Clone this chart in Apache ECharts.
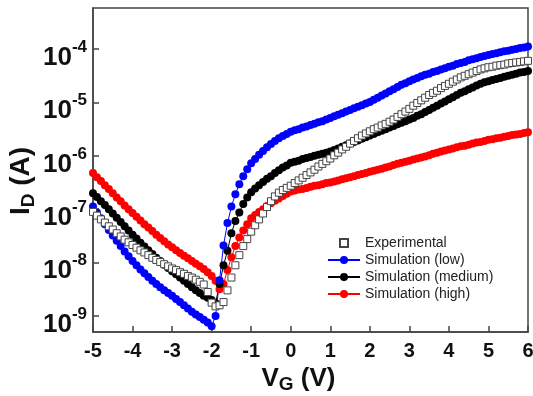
<!DOCTYPE html>
<html>
<head>
<meta charset="utf-8">
<script src="https://cdn.jsdelivr.net/npm/echarts@6/dist/echarts.min.js"></script>
<style>
  html, body { margin: 0; padding: 0; background: #fff; }
  #chart { width: 533px; height: 396px; }
</style>
</head>
<body>
<div id="chart"></div>
<script>
// gate voltage sweep (V)
const vg = [
  -5.0, -4.9, -4.8, -4.7, -4.6, -4.5, -4.4, -4.3, -4.2, -4.1,
  -4.0, -3.9, -3.8, -3.7, -3.6, -3.5, -3.4, -3.3, -3.2, -3.1,
  -3.0, -2.9, -2.8, -2.7, -2.6, -2.5, -2.4, -2.3, -2.2, -2.1,
  -2.0, -1.9, -1.8, -1.7, -1.6, -1.5, -1.4, -1.3, -1.2, -1.1,
  -1.0, -0.9, -0.8, -0.7, -0.6, -0.5, -0.4, -0.3, -0.2, -0.1,
  0.0, 0.1, 0.2, 0.3, 0.4, 0.5, 0.6, 0.7, 0.8, 0.9,
  1.0, 1.1, 1.2, 1.3, 1.4, 1.5, 1.6, 1.7, 1.8, 1.9,
  2.0, 2.1, 2.2, 2.3, 2.4, 2.5, 2.6, 2.7, 2.8, 2.9,
  3.0, 3.1, 3.2, 3.3, 3.4, 3.5, 3.6, 3.7, 3.8, 3.9,
  4.0, 4.1, 4.2, 4.3, 4.4, 4.5, 4.6, 4.7, 4.8, 4.9,
  5.0, 5.1, 5.2, 5.3, 5.4, 5.5, 5.6, 5.7, 5.8, 5.9,
  6.0
];

// log10 of I_D (A)
const logExp = [
  -7.05, -7.12, -7.19, -7.25, -7.32, -7.38, -7.45, -7.51, -7.57, -7.62,
  -7.67, -7.72, -7.77, -7.81, -7.86, -7.91, -7.95, -7.99, -8.03, -8.07,
  -8.11, -8.14, -8.18, -8.21, -8.25, -8.28, -8.32, -8.36, -8.41, -8.55,
  -8.75, -8.82, -8.80, -8.74, -8.52, -8.28, -8.05, -7.86, -7.69, -7.56,
  -7.42, -7.30, -7.19, -7.08, -6.96, -6.85, -6.76, -6.69, -6.64, -6.60,
  -6.56, -6.51, -6.46, -6.41, -6.36, -6.31, -6.26, -6.20, -6.15, -6.10,
  -6.05, -5.99, -5.94, -5.88, -5.83, -5.77, -5.72, -5.67, -5.62, -5.58,
  -5.54, -5.50, -5.47, -5.43, -5.40, -5.36, -5.32, -5.27, -5.22, -5.17,
  -5.12, -5.06, -5.01, -4.96, -4.91, -4.86, -4.82, -4.78, -4.73, -4.69,
  -4.65, -4.61, -4.57, -4.53, -4.50, -4.47, -4.44, -4.41, -4.38, -4.36,
  -4.34, -4.33, -4.31, -4.30, -4.29, -4.27, -4.26, -4.25, -4.24, -4.23,
  -4.22
];

const logLow = [
  -6.95, -7.06, -7.17, -7.28, -7.39, -7.49, -7.59, -7.69, -7.79, -7.88,
  -7.97, -8.05, -8.13, -8.20, -8.27, -8.34, -8.40, -8.46, -8.52, -8.57,
  -8.62, -8.68, -8.74, -8.80, -8.86, -8.92, -8.97, -9.02, -9.07, -9.12,
  -9.19, -9.00, -8.33, -7.68, -7.26, -6.95, -6.72, -6.53, -6.38, -6.25,
  -6.14, -6.06, -5.98, -5.91, -5.84, -5.78, -5.72, -5.67, -5.63, -5.59,
  -5.55, -5.52, -5.50, -5.47, -5.45, -5.42, -5.40, -5.37, -5.35, -5.32,
  -5.29, -5.26, -5.23, -5.20, -5.17, -5.14, -5.11, -5.08, -5.05, -5.02,
  -4.99, -4.95, -4.91, -4.87, -4.83, -4.79, -4.75, -4.71, -4.67, -4.64,
  -4.60, -4.57, -4.54, -4.51, -4.48, -4.46, -4.43, -4.41, -4.38, -4.36,
  -4.33, -4.31, -4.28, -4.26, -4.24, -4.21, -4.19, -4.17, -4.15, -4.13,
  -4.11, -4.09, -4.08, -4.06, -4.04, -4.03, -4.01, -4.00, -3.98, -3.97,
  -3.95
];

const logMedium = [
  -6.70, -6.77, -6.85, -6.92, -7.00, -7.08, -7.16, -7.24, -7.32, -7.40,
  -7.48, -7.55, -7.63, -7.70, -7.77, -7.84, -7.91, -7.97, -8.04, -8.10,
  -8.16, -8.22, -8.28, -8.34, -8.40, -8.46, -8.52, -8.57, -8.62, -8.66,
  -8.70, -8.76, -8.40, -8.05, -7.78, -7.45, -7.22, -7.06, -6.90, -6.78,
  -6.68, -6.61, -6.55, -6.49, -6.43, -6.38, -6.32, -6.27, -6.22, -6.18,
  -6.13, -6.11, -6.09, -6.06, -6.04, -6.02, -6.00, -5.98, -5.96, -5.94,
  -5.92, -5.89, -5.86, -5.83, -5.80, -5.77, -5.74, -5.71, -5.68, -5.65,
  -5.62, -5.59, -5.56, -5.53, -5.50, -5.47, -5.44, -5.41, -5.38, -5.35,
  -5.32, -5.29, -5.25, -5.22, -5.18, -5.14, -5.10, -5.06, -5.02, -4.98,
  -4.94, -4.90, -4.86, -4.82, -4.79, -4.75, -4.72, -4.68, -4.65, -4.62,
  -4.60, -4.58, -4.56, -4.54, -4.52, -4.50, -4.48, -4.46, -4.44, -4.43,
  -4.41
];

const logHigh = [
  -6.32, -6.40, -6.47, -6.55, -6.62, -6.70, -6.78, -6.85, -6.93, -7.00,
  -7.07, -7.14, -7.21, -7.28, -7.34, -7.41, -7.48, -7.54, -7.60, -7.66,
  -7.71, -7.77, -7.82, -7.87, -7.92, -7.97, -8.02, -8.07, -8.12, -8.18,
  -8.25, -8.34, -8.50, -8.40, -8.14, -7.90, -7.69, -7.53, -7.40, -7.28,
  -7.17, -7.11, -7.05, -7.00, -6.94, -6.89, -6.84, -6.80, -6.75, -6.71,
  -6.67, -6.65, -6.63, -6.62, -6.60, -6.58, -6.56, -6.55, -6.53, -6.51,
  -6.50, -6.48, -6.46, -6.44, -6.42, -6.40, -6.38, -6.36, -6.34, -6.32,
  -6.30, -6.28, -6.26, -6.24, -6.22, -6.20, -6.17, -6.15, -6.13, -6.11,
  -6.09, -6.07, -6.05, -6.03, -6.01, -5.99, -5.96, -5.94, -5.92, -5.90,
  -5.88, -5.86, -5.84, -5.82, -5.81, -5.79, -5.77, -5.75, -5.74, -5.72,
  -5.70, -5.69, -5.67, -5.66, -5.64, -5.63, -5.61, -5.60, -5.59, -5.57,
  -5.56
];

// y tick positions (decades)
const decades = [-9, -8, -7, -6, -5, -4];
const legendNames = ['Experimental', 'Simulation (low)', 'Simulation (medium)', 'Simulation (high)'];

const FONT = '"Liberation Sans", Arial, sans-serif';
const AXIS = '#444';
const pairs = ys => vg.map((v, i) => [v, ys[i]]);

const simLine = (name, ys, color) => ({
  name: name,
  type: 'line',
  data: pairs(ys),
  symbol: 'circle',
  symbolSize: 8,
  showAllSymbol: true,
  lineStyle: {color: color, width: 1},
  itemStyle: {color: color}
});

const chart = echarts.init(document.getElementById('chart'));
chart.setOption({
  animation: false,
  grid: {
    left: 93, right: 5, top: 8, bottom: 64,
    outerBoundsMode: 'none',
    containLabel: false,
    show: true, borderColor: AXIS, borderWidth: 1.5
  },
  legend: {
    data: legendNames,
    orient: 'vertical',
    left: 322,
    top: 231,
    itemWidth: 32,
    itemHeight: 10,
    itemGap: 3,
    textStyle: {fontSize: 14, color: '#222', fontFamily: FONT, lineHeight: 14}
  },
  xAxis: {
    type: 'value',
    min: -5,
    max: 6,
    interval: 1,
    axisLine: {onZero: false, lineStyle: {color: AXIS, width: 1.5}},
    axisTick: {inside: true, length: 6, lineStyle: {color: AXIS, width: 1.5}},
    splitLine: {show: false},
    axisLabel: {fontSize: 20, fontWeight: 'bold', color: '#111', fontFamily: FONT, margin: 9},
    name: '{v|V}{g|G}{v| (V)}',
    nameLocation: 'middle',
    nameGap: 26,
    nameTextStyle: {
      padding: [0, 24, 0, 0],
      rich: {
        v: {fontSize: 26, fontWeight: 'bold', color: '#111', fontFamily: FONT, lineHeight: 30},
        g: {fontSize: 19, fontWeight: 'bold', color: '#111', fontFamily: FONT, verticalAlign: 'bottom', lineHeight: 30}
      }
    }
  },
  yAxis: {
    type: 'value',
    min: -9.3,
    max: -3.23,
    axisLine: {show: true, onZero: false, lineStyle: {color: AXIS, width: 1.5}},
    axisTick: {inside: true, length: 6, customValues: decades, lineStyle: {color: AXIS, width: 1.5}},
    splitLine: {show: false},
    axisLabel: {
      customValues: decades,
      margin: 6,
      padding: [11, 0, 0, 0],
      formatter: v => '{b|10}{s|' + v + '}',
      rich: {
        b: {fontSize: 26, fontWeight: 'bold', color: '#111', fontFamily: FONT, lineHeight: 32, padding: [6, 0, 0, 0]},
        s: {fontSize: 17, fontWeight: 'bold', color: '#111', fontFamily: FONT, verticalAlign: 'top', lineHeight: 21}
      }
    },
    name: '{i|I}{d|D}{i| (A)}',
    nameLocation: 'middle',
    nameRotate: 90,
    nameGap: 55,
    nameMoveOverlap: false,
    nameTextStyle: {
      padding: [0, 22, 0, 0],
      rich: {
        i: {fontSize: 28, fontWeight: 'bold', color: '#111', fontFamily: FONT, lineHeight: 34},
        d: {fontSize: 19, fontWeight: 'bold', color: '#111', fontFamily: FONT, verticalAlign: 'bottom', lineHeight: 34}
      }
    }
  },
  series: [
    simLine('Simulation (high)', logHigh, '#ff0000'),
    simLine('Simulation (medium)', logMedium, '#000000'),
    simLine('Simulation (low)', logLow, '#0000ff'),
    {
      name: 'Experimental',
      type: 'line',
      data: pairs(logExp),
      symbol: 'rect',
      symbolSize: 7,
      showAllSymbol: true,
      lineStyle: {width: 0, opacity: 0},
      itemStyle: {color: '#ffffff', borderColor: '#444', borderWidth: 1}
    }
  ]
});
</script>
</body>
</html>
